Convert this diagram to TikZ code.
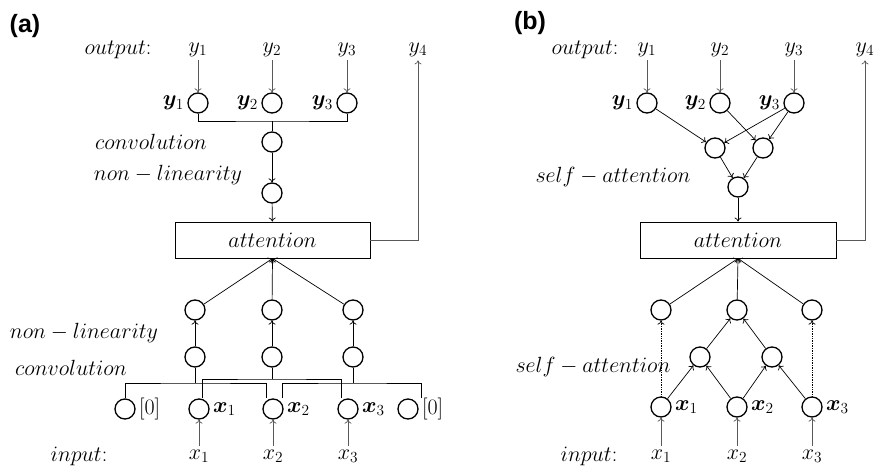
\RequirePackage{fix-cm}
\documentclass[tikz,border=0pt]{standalone}
\usepackage{fontspec}
\usepackage{amsmath,bm}
\newfontfamily\labelfont{Liberation Sans}
\usetikzlibrary{arrows.meta,positioning}

\begin{document}
\begin{tikzpicture}[x=1pt,y=-1pt,
        unit/.style={
            circle,
            draw,
            line width=1.3pt,
            minimum size=20pt,
            inner sep=0pt
        },
        link/.style={-{To[length=4pt,width=7pt]},line width=0.7pt},
        feed/.style={link,draw=black!65},
        hop/.style={link,densely dotted},
        brace/.style={line width=0.9pt},
        block/.style={draw,line width=0.9pt,minimum width=195pt,minimum height=36pt,inner sep=0pt},
        every node/.style={font=\fontsize{22}{26}\selectfont}
    ]
    \useasboundingbox (0,0) rectangle (879,469);

    % (a) convolution
    \node (labA) at (25,26) {\labelfont\fontsize{25}{28}\selectfont\bfseries (a)};

    \node (outA) at (118,50) {$output$:};
    \node (tyA1) at (198,50) {$y_1$};
    \node (tyA2) at (272,50) {$y_2$};
    \node (tyA3) at (347,50) {$y_3$};
    \node (tyA4) at (418,50) {$y_4$};

    \node[unit] (cyA1) at (198,103) {};
    \node[unit] (cyA2) at (272,103) {};
    \node[unit] (cyA3) at (347,103) {};
    \node[left=0pt of cyA1] (byA1) {$\bm{y}_1$};
    \node[left=0pt of cyA2] (byA2) {$\bm{y}_2$};
    \node[left=0pt of cyA3] (byA3) {$\bm{y}_3$};
    \foreach \i in {1,2,3}
        \draw[feed] (tyA\i) -- (cyA\i);

    \coordinate (bkA) at (272,121);
    \draw[brace] (cyA1.south) |- (bkA) -| (cyA3.south);
    \node[unit] (cvA) at (272,142) {};
    \node[unit] (nlA) at (272,193) {};
    \draw[brace] (bkA) -- (cvA.north);
    \draw[link] (cvA) -- (nlA);

    \node (cvtA) at (151,142) {$convolution$};
    \node (nltA) at (168,175) {$non - linearity$};

    \node[block] (atA) at (272.5,240) {$attention$};
    \draw[link] (nlA) -- (atA);
    \draw[feed] (atA.east) -| (tyA4.south);

    \foreach \i/\x in {1/195,2/272,3/353} {
        \node[unit] (tA\i) at (\x,310) {};
        \node[unit] (mA\i) at (\x,357) {};
        \draw[link] (mA\i) -- (tA\i);
        \draw[link] (tA\i) -- (atA.south);
    }

    \node (nlbA) at (84,333) {$non - linearity$};
    \node (cvbA) at (71,368) {$convolution$};

    \node[unit] (zA0) at (125,409) {};
    \node[unit] (xA1) at (199,409) {};
    \node[unit] (xA2) at (273,409) {};
    \node[unit] (xA3) at (348,409) {};
    \node[unit] (zA4) at (408,409) {};
    \node[right=0pt of zA0] (pA0) {$[0]$};
    \node[right=0pt of zA4] (pA4) {$[0]$};
    \node[right=0pt of xA1] (bxA1) {$\bm{x}_1$};
    \node[right=0pt of xA2] (bxA2) {$\bm{x}_2$};
    \node[right=0pt of xA3] (bxA3) {$\bm{x}_3$};

    \coordinate (bkA1) at (195,383);
    \coordinate (bkA2) at (272,379);
    \coordinate (bkA3) at (353,383);
    \draw[brace] (zA0.north) |- (bkA1) -| ([xshift=-7pt]xA2.north);
    \draw[brace] ([xshift=3pt]xA1.north) |- (bkA2) -| ([xshift=-7pt]xA3.north);
    \draw[brace] ([xshift=9pt]xA2.north) |- (bkA3) -| ([xshift=13pt]zA4.north);
    \foreach \i in {1,2,3}
        \draw[brace] (bkA\i) -- (mA\i.south);

    \node (inA) at (79,456) {$input$:};
    \node (ixA1) at (199,456) {$x_1$};
    \node (ixA2) at (273,456) {$x_2$};
    \node (ixA3) at (348,456) {$x_3$};
    \foreach \i in {1,2,3}
        \draw[feed] (ixA\i) -- (xA\i);

    % (b) self-attention
    \node (labB) at (530,23) {\labelfont\fontsize{25}{28}\selectfont\bfseries (b)};

    \node (outB) at (585,50) {$output$:};
    \node (tyB1) at (647,50) {$y_1$};
    \node (tyB2) at (720,50) {$y_2$};
    \node (tyB3) at (794,50) {$y_3$};
    \node (tyB4) at (865,50) {$y_4$};

    \node[unit] (cyB1) at (647,103) {};
    \node[unit] (cyB2) at (720,103) {};
    \node[unit] (cyB3) at (794,103) {};
    \node[left=0pt of cyB1] (byB1) {$\bm{y}_1$};
    \node[left=0pt of cyB2] (byB2) {$\bm{y}_2$};
    \node[left=0pt of cyB3] (byB3) {$\bm{y}_3$};
    \foreach \i in {1,2,3}
        \draw[feed] (tyB\i) -- (cyB\i);

    \node[unit] (saB1) at (715,148) {};
    \node[unit] (saB2) at (763,148) {};
    \node[unit] (sbB) at (738,187) {};
    \draw[link] (cyB1) -- (saB1);
    \draw[link] (cyB2) -- (saB2);
    \draw[link] (cyB3) -- (saB1);
    \draw[link] (cyB3) -- (saB2);
    \draw[link] (saB1) -- (sbB);
    \draw[link] (saB2) -- (sbB);

    \node (sltB) at (613,177) {$self - attention$};

    \node[block,minimum width=196pt] (atB) at (738,240) {$attention$};
    \draw[link] (sbB) -- (atB);
    \draw[feed] (atB.east) -| (tyB4.south);

    \foreach \i/\x in {1/661,2/737,3/812} {
        \node[unit] (tB\i) at (\x,310) {};
        \node[unit] (xB\i) at (\x,407) {};
        \draw[link] (tB\i) -- (atB.south);
    }
    \node[unit] (mB1) at (700,357) {};
    \node[unit] (mB2) at (772,357) {};
    \node[right=0pt of xB1] (bxB1) {$\bm{x}_1$};
    \node[right=0pt of xB2] (bxB2) {$\bm{x}_2$};
    \node[right=0pt of xB3] (bxB3) {$\bm{x}_3$};

    \draw[link] (xB1) -- (mB1);
    \draw[link] (xB2) -- (mB1);
    \draw[link] (xB2) -- (mB2);
    \draw[link] (xB3) -- (mB2);
    \draw[link] (mB1) -- (tB2);
    \draw[link] (mB2) -- (tB2);
    \draw[hop] (xB1) -- (tB1);
    \draw[hop] (xB3) -- (tB3);

    \node (slbB) at (593,367) {$self - attention$};

    \node (inB) at (589,456) {$input$:};
    \node (ixB1) at (661,456) {$x_1$};
    \node (ixB2) at (737,456) {$x_2$};
    \node (ixB3) at (812,456) {$x_3$};
    \foreach \i in {1,2,3}
        \draw[feed] (ixB\i) -- (xB\i);

\end{tikzpicture}
\end{document}
